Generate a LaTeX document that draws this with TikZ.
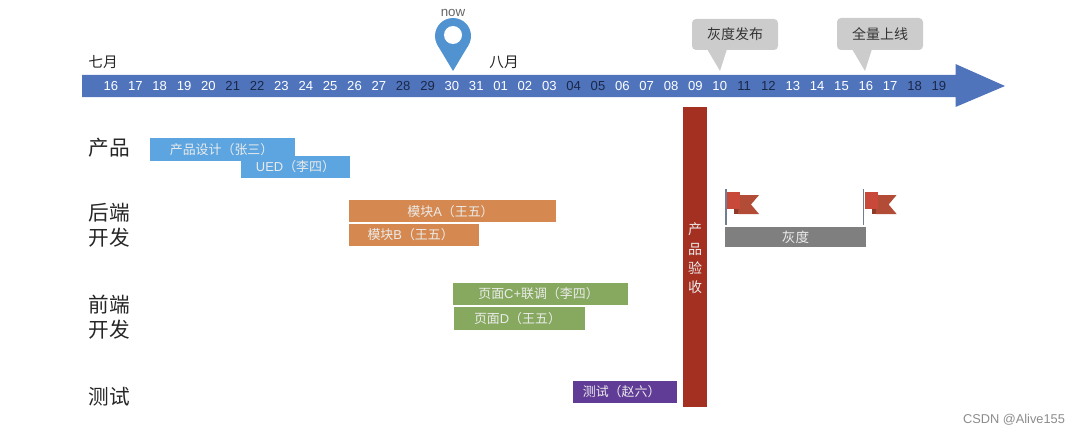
\documentclass[tikz,border=0pt]{standalone}
\usepackage{fontspec}
\setmainfont{Noto Sans CJK SC}
\newfontfamily\latinfont{Liberation Sans}
\definecolor{axisblue}{HTML}{4F74BC}
\definecolor{pinblue}{HTML}{5193D0}
\definecolor{weekend}{HTML}{1C2748}
\definecolor{prodblue}{HTML}{5CA5E0}
\definecolor{backorange}{HTML}{D58950}
\definecolor{frontgreen}{HTML}{86A95F}
\definecolor{testpurple}{HTML}{613C97}
\definecolor{checkred}{HTML}{A43022}
\definecolor{rollgray}{HTML}{7F7F7F}
\definecolor{calloutgray}{HTML}{CCCCCC}
\definecolor{flagfront}{HTML}{C8483A}
\definecolor{flagback}{HTML}{B34C36}
\definecolor{flagfold}{HTML}{8E3A2A}
\definecolor{polegray}{HTML}{6F7F8F}
\tikzset{
  rowlabel/.style={font=\fontsize{15.5}{18}\selectfont,text=black!85},
  monthlabel/.style={font=\fontsize{11}{13}\selectfont,text=black!85},
  barlabel/.style={font=\fontsize{9.7}{12}\selectfont,text=white!92!black,inner sep=0pt},
  calloutlabel/.style={font=\fontsize{10.5}{12}\selectfont,text=black!80,inner sep=0pt},
}
\begin{document}
\begin{tikzpicture}[x=0.75pt,y=-0.75pt]
\useasboundingbox (0,0) rectangle (1080,435);
% Time axis
\fill[axisblue] (82,75) -- (955.5,75) -- (955.5,64) -- (1005,86) -- (955.5,107) -- (955.5,97) -- (82,97) -- cycle;
\foreach \d/\c [count=\i from 0] in {16/white,17/white,18/white,19/white,20/white,21/weekend,22/weekend,23/white,24/white,25/white,26/white,27/white,28/weekend,29/weekend,30/white,31/white,01/white,02/white,03/white,04/weekend,05/weekend,06/white,07/white,08/white,09/white,10/white,11/weekend,12/weekend,13/white,14/white,15/white,16/white,17/white,18/weekend,19/weekend}
  \node[text=\c,font=\latinfont\fontsize{9.8}{11}\selectfont,inner sep=0pt] (day\i) at ({111+24.35*\i},86) {\d};
\node[monthlabel] (july) at (103,62) {七月};
\node[monthlabel] (august) at (504,62) {八月};
% Now marker
\node[text=black!60,font=\latinfont\fontsize{10}{12}\selectfont,inner sep=0pt] (now) at (453,12.5) {now};
\fill[pinblue] (453,36) circle[radius=18];
\fill[pinblue] (437.6,45.3) -- (453,71) -- (468.4,45.3) -- cycle;
\fill[white] (453,35) circle[radius=9];
% Callouts
\fill[calloutgray,rounded corners=3pt] (692,19) rectangle node[calloutlabel] (graytag) {灰度发布} (778,50);
\fill[calloutgray] (707,49) -- (720,71) -- (727,49) -- cycle;
\fill[calloutgray,rounded corners=3pt] (837,18) rectangle node[calloutlabel] (fulltag) {全量上线} (923,50);
\fill[calloutgray] (852,49) -- (865,71) -- (872,49) -- cycle;
% Row labels
\node[rowlabel] (product) at (109,148) {产品};
\node[rowlabel] (backend1) at (109,213) {后端};
\node[rowlabel] (backend2) at (109,238) {开发};
\node[rowlabel] (frontend1) at (109,305) {前端};
\node[rowlabel] (frontend2) at (109,330) {开发};
\node[rowlabel] (testing) at (109,397) {测试};
% Tasks
\fill[prodblue] (150,138) rectangle node[barlabel,xshift=-0.7pt] (design) {产品设计（张三）} (295,161);
\fill[prodblue] (241,156) rectangle node[barlabel] (ued) {{\latinfont UED}（李四）} (350,178);
\fill[backorange] (349,200) rectangle node[barlabel,xshift=-1.5pt,yshift=-0.7pt] (modulea) {模块{\latinfont A}（王五）} (556,222);
\fill[backorange] (349,224) rectangle node[barlabel,xshift=-2.5pt] (moduleb) {模块{\latinfont B}（王五）} (479,246);
\fill[frontgreen] (453,283) rectangle node[barlabel,xshift=-1.5pt] (pagec) {页面{\latinfont C+}联调（李四）} (628,305);
\fill[frontgreen] (454,307) rectangle node[barlabel,xshift=-1.5pt] (paged) {页面{\latinfont D}（王五）} (585,330);
\fill[testpurple] (573,381) rectangle node[barlabel,xshift=-2.5pt] (test) {测试（赵六）} (677,403);
% Acceptance
\fill[checkred] (683,107) rectangle (707,407);
\foreach \t/\y in {产/229,品/249,验/268,收/287}
  \node[barlabel,font=\fontsize{10.5}{12}\selectfont] at (695,\y) {\t};
% Rollout
\fill[rollgray] (725,227) rectangle node[barlabel,font=\fontsize{10.2}{12}\selectfont] (rollout) {灰度} (866,247);
\foreach \p in {726,863.6} {
  \draw[polegray,line width=0.9pt] (\p,189) -- (\p,225);
  \fill[flagfold] (\p+8,209) -- (\p+14,209) -- (\p+14,214) -- (\p+8,214) -- cycle;
  \fill[flagback] (\p+14,195) -- (\p+33,195) -- (\p+25,204.5) -- (\p+33,214) -- (\p+12,214) -- cycle;
  \fill[flagfront] (\p+1,192) -- (\p+14,192) -- (\p+14,209) -- (\p+1,209) -- cycle;
}
% Watermark
\node[text=black!45,font=\latinfont\fontsize{9.6}{12}\selectfont,inner sep=0pt] (mark) at (1014,420) {CSDN @Alive155};
\end{tikzpicture}
\end{document}
